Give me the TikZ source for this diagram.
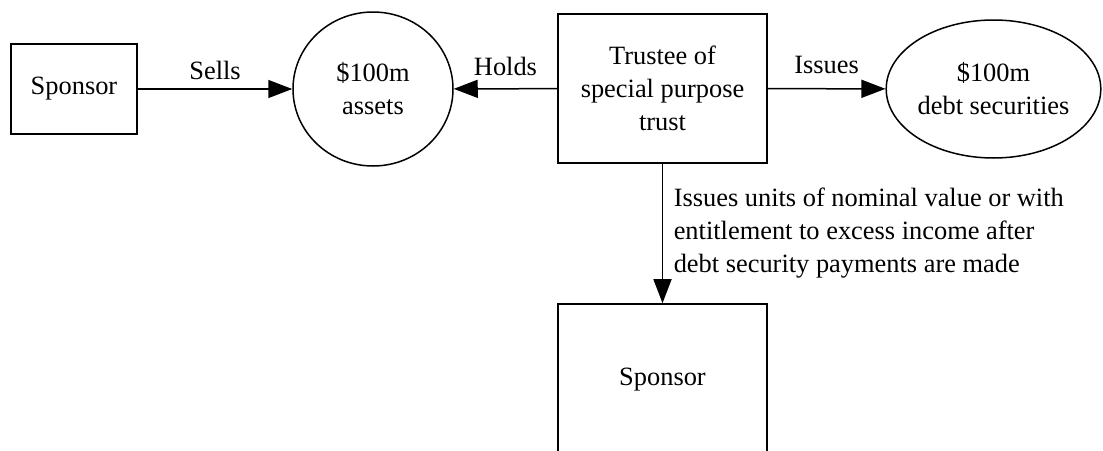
\documentclass[tikz,border=0pt]{standalone}
\usepackage{fontspec}
\setmainfont{Liberation Serif}
\usetikzlibrary{arrows.meta,shapes.geometric}
\begin{document}
\begin{tikzpicture}[x=1pt,y=-1pt,
  every node/.style={font=\fontsize{26.4}{33}\selectfont, align=center},
  box/.style={draw, rectangle, line width=1.6pt, inner sep=0pt},
  oval/.style={draw, ellipse, line width=1.5pt, inner sep=0pt},
  flow/.style={line width=1.5pt, -{Triangle[length=24pt,width=18pt]}},
  lbl/.style={inner sep=0pt}]
\useasboundingbox (0,0) rectangle (1103,450);
\clip (0,0) rectangle (1103,450);

% entities
\node[box, minimum width=126pt, minimum height=90pt] (sp1) at (74,89) {Sponsor};
\node[oval, minimum width=160pt, minimum height=154pt] (assets) at (373,89) {\$100m\\assets};
\node[box, minimum width=209pt, minimum height=149pt] (trust) at (662.5,88.5) {Trustee of\\special purpose\\trust};
\node[oval, minimum width=207pt, minimum height=138pt] (debt) at (993.5,89) {\$100m\\debt securities};
\node[box, minimum width=209pt, minimum height=152pt] (sp2) at (662.5,380) {Sponsor};

% flows
\draw[flow] (sp1) -- node[lbl, above=8pt] {Sells} (assets);
\draw[flow] (trust) -- node[lbl, above=12pt] {Holds} (assets);
\draw[flow] (trust) -- node[lbl, above=14pt] {Issues} (debt);
\draw[flow] (trust) -- node[lbl, right=10.5pt, align=left]
  {Issues units of nominal value or with\\entitlement to excess income after\\debt security payments are made} (sp2);
\end{tikzpicture}
\end{document}
